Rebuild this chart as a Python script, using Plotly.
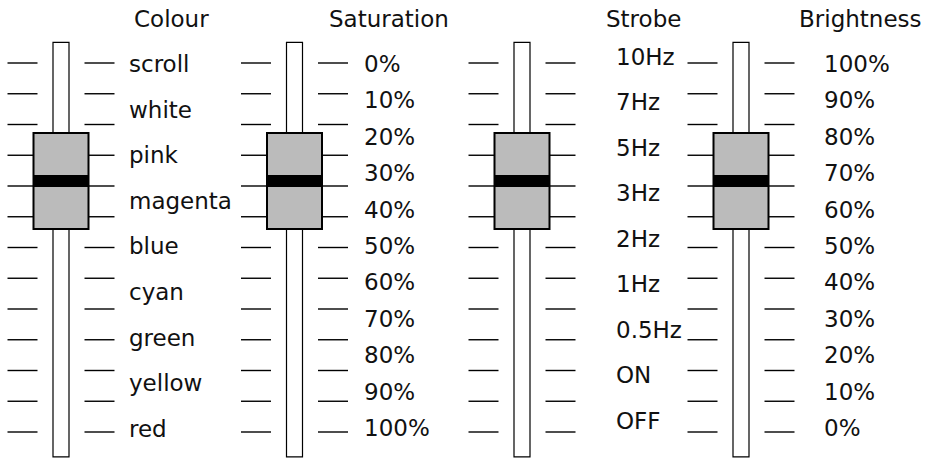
import numpy as np
import plotly.graph_objects as go

# ---- data ----
titles = ["Colour", "Saturation", "Strobe", "Brightness"]
colour_labels = ["scroll", "white", "pink", "magenta", "blue", "cyan", "green", "yellow", "red"]
saturation_labels = ["0%", "10%", "20%", "30%", "40%", "50%", "60%", "70%", "80%", "90%", "100%"]
strobe_labels = ["10Hz", "7Hz", "5Hz", "3Hz", "2Hz", "1Hz", "0.5Hz", "ON", "OFF"]
brightness_labels = ["100%", "90%", "80%", "70%", "60%", "50%", "40%", "30%", "20%", "10%", "0%"]
n_ticks = 13                       # tick marks per fader scale (index 0 = top)
knob_positions = [3.84, 3.84, 3.84, 3.84]   # fader setting in tick units

label_sets = [colour_labels, saturation_labels, strobe_labels, brightness_labels]

# ---- layout constants (pixels along x, tick units along y) ----
W, H = 936, 458
fader_cx = [61, 294.5, 522, 741]
label_x = [127, 362, 614, 822]
title_cx = [171, 389, 643, 860]
label_span = [(0.03, 11.9), (0.03, 11.87), (-0.21, 11.64), (0.03, 11.87)]
title_y = -1.43
slot_half_w = 8
slot_top, slot_bot = -0.67, 12.81
knob_half_w = 27.5
knob_half_h = 1.56
bar_half_h = 0.195
tick_in, tick_out = 23.5, 53.5

FONT = "DejaVu Sans"
FSIZE = 23
fig = go.Figure()

# tick marks
tx, ty = [], []
for cx in fader_cx:
    for i in range(n_ticks):
        for s in (-1, 1):
            tx += [cx + s * tick_in, cx + s * tick_out, None]
            ty += [i, i, None]
fig.add_trace(go.Scatter(x=tx, y=ty, mode="lines",
                         line=dict(color="#000000", width=1.4),
                         hoverinfo="skip", showlegend=False))

shapes = []
for cx, pos in zip(fader_cx, knob_positions):
    shapes.append(dict(type="rect", xref="x", yref="y",
                       x0=cx - slot_half_w, x1=cx + slot_half_w,
                       y0=slot_top, y1=slot_bot,
                       fillcolor="white", line=dict(color="black", width=1.2)))
    shapes.append(dict(type="rect", xref="x", yref="y",
                       x0=cx - knob_half_w, x1=cx + knob_half_w,
                       y0=pos - knob_half_h, y1=pos + knob_half_h,
                       fillcolor="#bbbbbb", line=dict(color="black", width=2)))
    shapes.append(dict(type="rect", xref="x", yref="y",
                       x0=cx - knob_half_w, x1=cx + knob_half_w + 0.5,
                       y0=pos - bar_half_h, y1=pos + bar_half_h,
                       fillcolor="black", line=dict(width=0)))

annotations = []
for k, (labels, lx, (a, b)) in enumerate(zip(label_sets, label_x, label_span)):
    ys = np.linspace(a, b, len(labels))
    for lab, yy in zip(labels, ys):
        annotations.append(dict(x=lx, y=yy, xref="x", yref="y", text=lab,
                                showarrow=False, xanchor="left", yanchor="middle",
                                font=dict(family=FONT, size=FSIZE, color="#111111")))
    annotations.append(dict(x=title_cx[k], y=title_y, xref="x", yref="y",
                            text=titles[k], showarrow=False,
                            xanchor="center", yanchor="middle",
                            font=dict(family=FONT, size=FSIZE, color="#111111")))

px_per_unit = (432 - 63) / 12.0
y_top = -63 / px_per_unit
y_bot = (H - 63) / px_per_unit

fig.update_layout(
    width=W, height=H,
    margin=dict(l=0, r=0, t=0, b=0),
    paper_bgcolor="white", plot_bgcolor="white",
    xaxis=dict(range=[0, W], visible=False, fixedrange=True),
    yaxis=dict(range=[y_bot, y_top], visible=False, fixedrange=True),
    shapes=shapes, annotations=annotations, showlegend=False,
)
fig.write_html("out.html", config={"staticPlot": True},
               post_script="document.body.style.margin='0';document.body.style.overflow='hidden';")
